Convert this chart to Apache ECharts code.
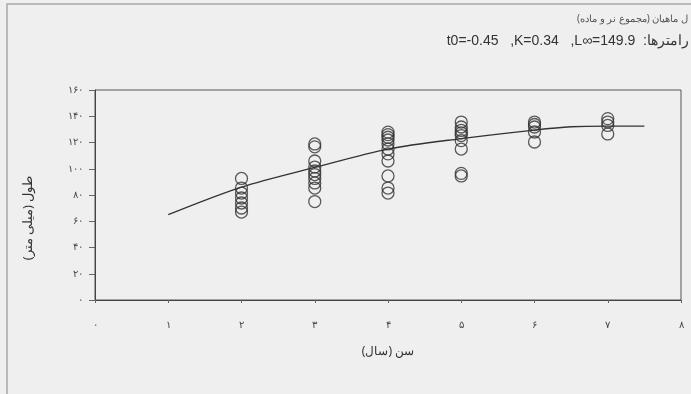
<!DOCTYPE html>
<html>
<head>
<meta charset="utf-8">
<script src="https://cdn.jsdelivr.net/npm/echarts@6/dist/echarts.min.js"></script>
<style>
html,body{margin:0;padding:0;background:#efefef;}
#c{width:691px;height:394px;}
</style>
</head>
<body>
<div id="c"></div>
<script>
// ---- data ----
var ages = [2, 3, 4, 5, 6, 7];
var lengthsAge2 = [92.6, 85.3, 81.5, 77.7, 73.9, 70.1, 67];
var lengthsAge3 = [118.9, 116.7, 105.9, 101.3, 98.3, 95.6, 92.6, 89.2, 85.3, 75];
var lengthsAge4 = [127.9, 126, 124, 121.9, 118.9, 115, 111.3, 105.9, 94.5, 85.3, 81.5];
var lengthsAge5 = [135.6, 131.8, 129.2, 127.3, 125.3, 121.4, 115, 96.5, 94.5];
var lengthsAge6 = [135.6, 133.7, 131.8, 128, 120.4];
var lengthsAge7 = [138.2, 135.6, 133, 126.5];
var curveAges = [1, 2, 3, 4, 5, 6, 6.5, 7, 7.5];
var curveLengths = [65, 86, 101, 115, 123, 129.5, 132, 132.5, 132.5];
var xTickLabels = ['۰', '۱', '۲', '۳', '۴', '۵', '۶', '۷', '۸'];
var yTickLabels = ['۰', '۲۰', '۴۰', '۶۰', '۸۰', '۱۰۰', '۱۲۰', '۱۴۰', '۱۶۰'];
var titleLine1 = 'ل ماهیان (مجموع نر و ماده)';
var titleLine2 = 't0=-0.45   ,K=0.34   ,L∞=149.9  :رامترها';
var xName = 'سن (سال)';
var yName = 'طول (میلی متر)';

var groups = [lengthsAge2, lengthsAge3, lengthsAge4, lengthsAge5, lengthsAge6, lengthsAge7];
var scatterData = [];
groups.forEach(function (g, i) {
  g.forEach(function (v) { scatterData.push([ages[i], v]); });
});
var curveData = curveAges.map(function (a, i) { return [a, curveLengths[i]]; });

var chart = echarts.init(document.getElementById('c'));
chart.setOption({
  backgroundColor: '#efefef',
  animation: false,
  textStyle: { fontFamily: 'Liberation Sans, DejaVu Sans, sans-serif' },
  graphic: [
    { type: 'rect', shape: { x: 7, y: 4, width: 700, height: 400 },
      style: { fill: 'none', stroke: '#a8a8a8', lineWidth: 1.5 }, z: -1 },
    { type: 'text', right: 3, top: 14,
      style: { text: titleLine1, fill: '#555', font: '10px "Noto Sans", sans-serif' } },
    { type: 'text', right: 2, top: 34,
      style: { text: titleLine2, fill: '#333', font: '14px "Liberation Sans", "Noto Sans", sans-serif' } },
    { type: 'text', x: 28, y: 218, rotation: Math.PI / 2,
      style: { text: yName, fill: '#333', font: '13px "Noto Sans", sans-serif',
               textAlign: 'center', textVerticalAlign: 'middle' } }
  ],
  grid: { left: 95, right: 10, top: 90, bottom: 94, show: true,
          borderColor: '#555', borderWidth: 1, backgroundColor: 'transparent' },
  xAxis: {
    type: 'value', min: 0, max: 8, interval: 1,
    name: xName, nameLocation: 'middle', nameGap: 46,
    nameTextStyle: { fontSize: 12, color: '#333', fontFamily: 'Noto Sans' },
    axisLine: { lineStyle: { color: '#444', width: 1 } },
    axisTick: { show: true, length: 3, lineStyle: { color: '#666' } },
    axisLabel: { margin: 20, fontSize: 10, color: '#444', fontFamily: 'Noto Sans',
                 formatter: function (v) { return xTickLabels[Math.round(v)]; } },
    splitLine: { show: false }
  },
  yAxis: {
    type: 'value', min: 0, max: 160, interval: 20,
    axisLine: { show: true, lineStyle: { color: '#444', width: 1 } },
    axisTick: { show: true, length: 6, lineStyle: { color: '#666' } },
    axisLabel: { margin: 12, fontSize: 10, color: '#444', fontFamily: 'Noto Sans',
                 formatter: function (v) { return yTickLabels[Math.round(v / 20)]; } },
    splitLine: { show: false }
  },
  series: [
    { type: 'scatter', data: scatterData, symbol: 'circle', symbolSize: 12,
      itemStyle: { color: 'rgba(0,0,0,0)', borderColor: '#333', borderWidth: 1.3 }, z: 3 },
    { type: 'line', data: curveData, smooth: 0.3, symbol: 'none',
      lineStyle: { color: '#333', width: 1.3 }, z: 4 }
  ]
});
</script>
</body>
</html>
